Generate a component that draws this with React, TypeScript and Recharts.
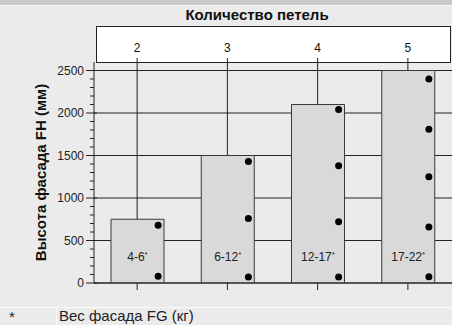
import {
  ComposedChart,
  Bar,
  Line,
  XAxis,
  YAxis,
  CartesianGrid,
  LabelList,
} from "recharts";

// loop count per facade size, facade height (mm), facade weight (kg)
const loops = ["2", "3", "4", "5"];
const facadeHeights = [750, 1500, 2100, 2500];
const facadeWeights = ["4-6", "6-12", "12-17", "17-22"];

// hinge positions along the facade (mm), null where there is no hinge
const hinge1 = [80, 70, 70, 75];
const hinge2 = [680, 760, 720, 660];
const hinge3 = [null, 1430, 1380, 1250];
const hinge4 = [null, null, 2040, 1810];
const hinge5 = [null, null, null, 2400];

const yMajorTicks = [0, 500, 1000, 1500, 2000, 2500];
const yMinorStep = 100;
const yTicks = Array.from({ length: 26 }, (_, i) => i * yMinorStep);

const FONT = "'Liberation Sans', Arial, Helvetica, sans-serif";
const DOT_OFFSET = 21;
const hingeKeys = ["h1", "h2", "h3", "h4", "h5"];

const data = loops.map((l, i) => ({
  loops: l,
  height: facadeHeights[i],
  weight: facadeWeights[i],
  h1: hinge1[i],
  h2: hinge2[i],
  h3: hinge3[i],
  h4: hinge4[i],
  h5: hinge5[i],
}));

const YTick = (props: any) => {
  const { x, y, payload } = props;
  const major = yMajorTicks.includes(payload.value);
  return (
    <g>
      <line
        x1={major ? x - 8 : x - 4}
        x2={major ? x + 3 : x}
        y1={y}
        y2={y}
        stroke="#222"
        strokeWidth={1}
      />
      {major && (
        <text x={x - 10} y={y} dy={4} textAnchor="end" fontSize={12} fill="#222" fontFamily={FONT}>
          {payload.value}
        </text>
      )}
    </g>
  );
};

const HingeDot = (props: any) => {
  const { cx, cy, index, dataKey } = props;
  if (cy == null || isNaN(cy)) return <g key={`${dataKey}-${index}`} />;
  return <circle key={`${dataKey}-${index}`} cx={cx + DOT_OFFSET} cy={cy} r={3.5} fill="#000" />;
};

const WeightLabel = (props: any) => {
  const { x, y, width, height, value } = props;
  return (
    <text
      x={x + width / 2}
      y={y + height - 22}
      textAnchor="middle"
      fontSize={12}
      fill="#222"
      fontFamily={FONT}
    >
      {value}
      <tspan dy={-4} fontSize={8}>
        *
      </tspan>
    </text>
  );
};

export default function App() {
  return (
    <div
      style={{
        position: "absolute",
        left: 0,
        top: 0,
        width: 452,
        height: 325,
        background: "#ebebeb",
        fontFamily: FONT,
        overflow: "hidden",
      }}
    >
      <div
        style={{
          position: "absolute",
          left: 0,
          top: 0,
          width: 452,
          height: 5,
          background: "#c8c8c8",
          borderBottom: "1px solid #f8f8f8",
        }}
      />
      <div
        style={{
          position: "absolute",
          left: 0,
          top: 6,
          width: 514,
          textAlign: "center",
          fontSize: 15,
          fontWeight: "bold",
          color: "#111",
        }}
      >
        Количество петель
      </div>
      <div
        style={{
          position: "absolute",
          left: 96,
          top: 26,
          width: 353,
          height: 35,
          background: "#fff",
          border: "1px solid #222",
        }}
      />
      <div style={{ position: "absolute", left: 0, top: 0 }}>
        <ComposedChart
          width={452}
          height={325}
          data={data}
          margin={{ top: 26, right: 0, left: 0, bottom: 0 }}
        >
          <CartesianGrid stroke="#222" horizontalValues={yMajorTicks} syncWithTicks />
          <XAxis
            xAxisId="top"
            orientation="top"
            dataKey="loops"
            height={36}
            axisLine={false}
            tickLine={{ stroke: "#222" }}
            tickSize={4}
            tickMargin={6}
            tick={{ fontSize: 12, fill: "#111", fontFamily: FONT }}
            padding={{ left: -2, right: -1 }}
          />
          <XAxis
            dataKey="loops"
            height={42}
            axisLine={{ stroke: "#444", strokeWidth: 1.5 }}
            tickLine={{ stroke: "#222" }}
            tickSize={7}
            tick={() => <g />}
            padding={{ left: -2, right: -1 }}
          />
          <YAxis
            type="number"
            domain={[0, 2600]}
            ticks={yTicks}
            interval={0}
            width={94}
            axisLine={{ stroke: "#222" }}
            tickLine={false}
            tickSize={0}
            tickMargin={0}
            tick={<YTick />}
            allowDataOverflow
            label={{
              value: "Высота фасада FH (мм)",
              angle: -90,
              position: "insideLeft",
              offset: 41,
              style: {
                textAnchor: "middle",
                fontSize: 15,
                fontWeight: "bold",
                fill: "#111",
                fontFamily: FONT,
              },
            }}
          />
          <Bar
            dataKey="height"
            barSize={53}
            fill="#d9d9d9"
            stroke="#3a3a3a"
            strokeWidth={1}
            isAnimationActive={false}
          >
            <LabelList dataKey="weight" content={<WeightLabel />} />
          </Bar>
          {hingeKeys.map((k) => (
            <Line
              key={k}
              dataKey={k}
              stroke="none"
              strokeWidth={0}
              dot={<HingeDot />}
              activeDot={false}
              isAnimationActive={false}
            />
          ))}
        </ComposedChart>
      </div>
      <div
        style={{
          position: "absolute",
          left: 0,
          top: 307,
          width: 452,
          height: 18,
          borderTop: "1px solid #fafafa",
          fontSize: 15,
          lineHeight: "16px",
          color: "#222",
        }}
      >
        <span style={{ position: "absolute", left: 9, top: 1 }}>*</span>
        <div
          style={{ position: "absolute", left: 56, top: 0, width: 1, height: 17, background: "#fafafa" }}
        />
        <span style={{ position: "absolute", left: 59, top: 0 }}>Вес фасада FG (кг)</span>
      </div>
    </div>
  );
}
